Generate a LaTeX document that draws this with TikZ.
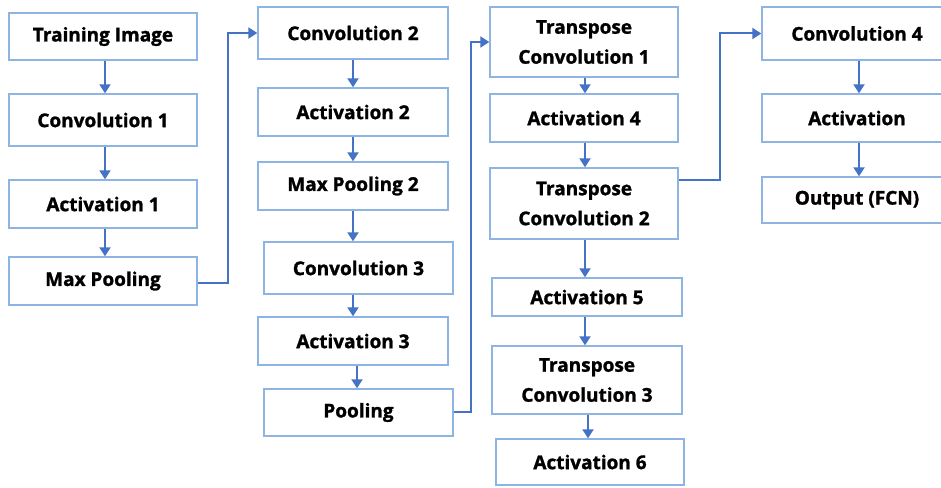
\documentclass[tikz,border=0pt]{standalone}
\usepackage{fontspec}
\setmainfont{Open Sans}[BoldFeatures={FakeBold=1.3}]
\usetikzlibrary{arrows.meta}
\definecolor{boxline}{HTML}{8EB4E3}
\definecolor{flow}{HTML}{4472C4}
\tikzset{
  stage/.style={draw=boxline, line width=1.4pt, fill=white, inner sep=0pt,
    font=\fontsize{19}{30}\selectfont\bfseries, align=center, text=black},
  flowline/.style={draw=flow, line width=2pt,
    -{Triangle[width=11pt,length=9pt]}},
}
% place a stage box by its corners (x1,y1) (x2,y2), in pixels from top left
\newcommand{\stagebox}[6]{%
  \node[stage, minimum width={#4-#2}, minimum height={#5-#3}]
    (#1) at ({(#2+#4)/2},{(#3+#5)/2}) {#6};}
\begin{document}
\begin{tikzpicture}[x=1pt, y=-1pt]
\useasboundingbox (0,0) rectangle (941,487);
\clip (0,0) rectangle (941,487);
% encoder, first block
\stagebox{ti}{9}{13}{197}{60}{Training Image}
\stagebox{c1}{9}{94}{197}{146}{Convolution 1}
\stagebox{a1}{9}{180}{197}{228}{Activation 1}
\stagebox{mp}{9}{257}{197}{305}{Max Pooling}
% encoder, second block
\stagebox{c2}{258}{7}{448}{59}{Convolution 2}
\stagebox{a2}{258}{88}{448}{136}{Activation 2}
\stagebox{mp2}{258}{162}{448}{210}{Max Pooling 2}
\stagebox{c3}{264}{242}{453}{294}{Convolution 3}
\stagebox{a3}{258}{317}{448}{365}{Activation 3}
\stagebox{pl}{264}{389}{453}{436}{Pooling}
% decoder
\stagebox{tc1}{490}{7}{678}{77}{Transpose\\Convolution 1}
\stagebox{a4}{490}{94}{678}{142}{Activation 4}
\stagebox{tc2}{490}{168}{678}{239}{Transpose\\Convolution 2}
\stagebox{a5}{492}{278}{682}{316}{Activation 5}
\stagebox{tc3}{492}{346}{682}{414}{Transpose\\Convolution 3}
\stagebox{a6}{496}{439}{684}{485}{Activation 6}
% head
\stagebox{c4}{762}{7}{952}{60}{Convolution 4}
\stagebox{act}{762}{94}{952}{142}{Activation}
\stagebox{out}{762}{177}{952}{223}{Output (FCN)}
% vertical steps
\coordinate (k1) at (105,0);
\foreach \u/\v in {ti/c1, c1/a1, a1/mp}
  \draw[flowline] (k1 |- \u.south) -- (k1 |- \v.north);
\coordinate (k2) at (353,0);
\foreach \u/\v in {c2/a2, a2/mp2, mp2/c3, c3/a3}
  \draw[flowline] (k2 |- \u.south) -- (k2 |- \v.north);
\coordinate (k3) at (357,0);
\draw[flowline] (k3 |- a3.south) -- (k3 |- pl.north);
\coordinate (k4) at (585,0);
\foreach \u/\v in {tc1/a4, a4/tc2, tc2/a5, a5/tc3}
  \draw[flowline] (k4 |- \u.south) -- (k4 |- \v.north);
\coordinate (k5) at (588,0);
\draw[flowline] (k5 |- tc3.south) -- (k5 |- a6.north);
\coordinate (k6) at (859,0);
\foreach \u/\v in {c4/act, act/out}
  \draw[flowline] (k6 |- \u.south) -- (k6 |- \v.north);
% links between blocks
\coordinate (e1) at (228,283);
\draw[flowline] (mp.east |- e1) -- (e1) |- (c2.west);
\coordinate (e2) at (471,412);
\draw[flowline] (pl.east |- e2) -- (e2) |- (tc1.west);
\coordinate (e3) at (720,180);
\draw[flowline] (tc2.east |- e3) -- (e3) |- (c4.west);
\end{tikzpicture}
\end{document}
